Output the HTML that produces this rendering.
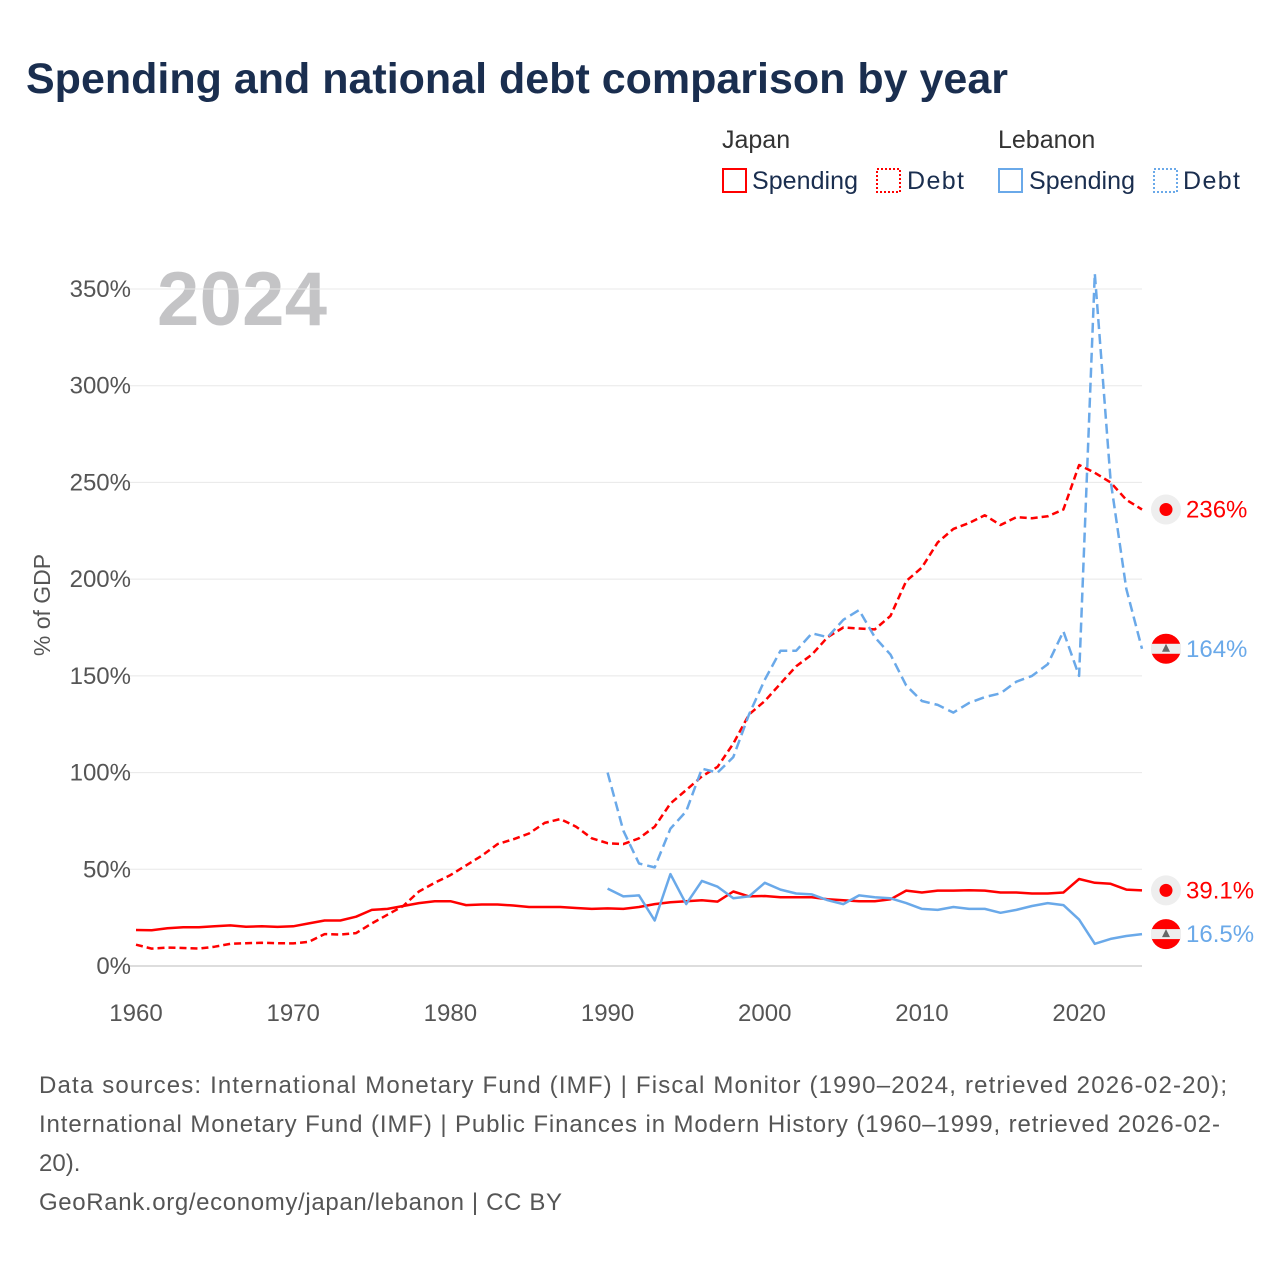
<!DOCTYPE html>
<html><head><meta charset="utf-8"><style>
body{margin:0;background:#fff;font-family:"Liberation Sans",sans-serif;}
svg text{font-family:"Liberation Sans",sans-serif;}
</style></head><body>
<svg id="c" width="1280" height="1280" xmlns="http://www.w3.org/2000/svg">
<text x="26" y="93" font-size="43" font-weight="bold" fill="#1a2e4f">Spending and national debt comparison by year</text>
<g font-size="25" fill="#1a2e4f">
<text x="722" y="148" fill="#333">Japan</text>
<text x="998" y="148" fill="#333">Lebanon</text>
<g><rect x="723" y="169" width="23" height="23" fill="none" stroke="#f00" stroke-width="2"/><text x="752" y="189" fill="#1a2e4f" textLength="106">Spending</text></g>
<g><rect x="877" y="169" width="23" height="23" fill="none" stroke="#f00" stroke-width="2" stroke-dasharray="2,2"/><text x="907" y="189" fill="#1a2e4f" textLength="57">Debt</text></g>
<g><rect x="999" y="169" width="23" height="23" fill="none" stroke="#6aa9e9" stroke-width="2"/><text x="1029" y="189" fill="#1a2e4f" textLength="106">Spending</text></g>
<g><rect x="1154" y="169" width="23" height="23" fill="none" stroke="#6aa9e9" stroke-width="2" stroke-dasharray="2,2"/><text x="1183" y="189" fill="#1a2e4f" textLength="57">Debt</text></g>
</g>
<text x="157" y="325" font-size="76" font-weight="bold" fill="#c4c4c6" textLength="170">2024</text>
<g id="grid"></g><g id="lines"></g><g id="ends"></g>
<text transform="translate(50,605) rotate(-90)" text-anchor="middle" font-size="23" fill="#555">% of GDP</text>
<g font-size="24" fill="#555">
<text x="39" y="1093" textLength="1188">Data sources: International Monetary Fund (IMF) | Fiscal Monitor (1990–2024, retrieved 2026-02-20);</text>
<text x="39" y="1132" textLength="1181">International Monetary Fund (IMF) | Public Finances in Modern History (1960–1999, retrieved 2026-02-</text>
<text x="39" y="1171">20).</text>
<text x="39" y="1210" textLength="523">GeoRank.org/economy/japan/lebanon | CC BY</text>
</g>
</svg>
<script>
const yTicks=[0,50,100,150,200,250,300,350];
const xTicks=[1960,1970,1980,1990,2000,2010,2020];
const japanSpending=[18.6,18.5,19.5,20,20,20.5,21,20.3,20.5,20.2,20.5,22,23.5,23.5,25.5,29,29.5,31,32.5,33.5,33.5,31.5,31.8,31.8,31.3,30.5,30.5,30.5,30,29.5,29.8,29.5,30.5,32,33,33.5,34,33.3,38.5,36,36.2,35.5,35.5,35.5,34.5,34,33.5,33.5,34.5,39,38,39,39,39.2,39,38,38,37.5,37.5,38,45,43,42.5,39.5,39.1];
const japanDebt=[11,9,9.5,9.3,9,10,11.5,11.8,12,11.8,11.7,12.5,16.5,16.3,17,22,26.5,31,38.5,43,47,52,57,63,65.5,68.5,74,76,72,66,63.5,63,66,72,84,91,98,103,115,130,137,146,155,161,170,175,174.5,174,181,199,206,219,226,229,233,228,232,231.5,232.5,236,259,255,250,241,236];
const lebanonSpending=[40,36,36.5,23.5,47.5,32,44,41,35,36,43,39.5,37.5,37,34,32,36.5,35.5,35,32.5,29.5,29,30.5,29.5,29.5,27.5,29,31,32.5,31.5,24,11.5,14,15.5,16.5];
const lebanonDebt=[100,70,53,51,71,80,102,100,108,130,148,163,163,172,170,179,184,170,161,145,137,135,131,136,139,141,147,150,156,173,150,358,251,195,164];
const endLabels=["236%","164%","39.1%","16.5%"];
const X=y=>136+(y-1960)*(1142-136)/64;
const Y=v=>966-v*(966-289)/350;
const NS="http://www.w3.org/2000/svg";
function mk(t,a,p){const e=document.createElementNS(NS,t);for(const k in a)e.setAttribute(k,a[k]);p.appendChild(e);return e;}
const grid=document.getElementById('grid');
yTicks.forEach(v=>{
 const l=mk('line',{x1:128,x2:1142,y1:Y(v),y2:Y(v),stroke:v===0?'#ddd':'#e8e8e8','stroke-width':v===0?2:1},grid);
 
 
 const t=mk('text',{x:131,y:Y(v)+8,'text-anchor':'end','font-size':24,fill:'#555'},grid);
 t.textContent=v+'%';
 
 
});
xTicks.forEach(v=>{
 const t=mk('text',{x:X(v),y:1021,'text-anchor':'middle','font-size':24,fill:'#555'},grid);
 t.textContent=v;
 
 
});
const lines=document.getElementById('lines');
function series(arr,start,color,dash,name){
 const d=arr.map((v,i)=>(i?'L':'M')+X(start+i).toFixed(1)+' '+Y(v).toFixed(1)).join(' ');
 const p=mk('path',{d:d,fill:'none',stroke:color,'stroke-width':2.5,'stroke-dasharray':dash,'stroke-linejoin':'round'},lines);
 
 
}
series(japanDebt,1960,'#f00','7,4','japan-debt-line');
series(lebanonDebt,1990,'#6aa9e9','10,5','lebanon-debt-line');
series(japanSpending,1960,'#f00','','japan-spending-line');
series(lebanonSpending,1990,'#6aa9e9','','lebanon-spending-line');
const ends=document.getElementById('ends');
const endVals=[japanDebt[64],lebanonDebt[34],japanSpending[64],lebanonSpending[34]];
const endCol=['#f00','#6aa9e9','#f00','#6aa9e9'];
const isLb=[false,true,false,true];
endVals.forEach((v,i)=>{
 const y=Y(v);
 const g=mk('g',{},ends);
 
 
 if(isLb[i]){
  mk('circle',{cx:1166,cy:y,r:15,fill:'#f00'},g);
  mk('rect',{x:1151,y:y-5,width:30,height:10,fill:'#eee'},g);
  mk('path',{d:`M1166 ${y-5} L1162 ${y+3} L1170 ${y+3}Z`,fill:'#666'},g);
 }else{
  mk('circle',{cx:1166,cy:y,r:15,fill:'#eee'},g);
  mk('circle',{cx:1166,cy:y,r:6.5,fill:'#f00'},g);
 }
 const t=mk('text',{x:1186,y:y+8,'font-size':24,fill:endCol[i]},ends);
 t.textContent=endLabels[i];
 
 
});
</script>
</body></html>
